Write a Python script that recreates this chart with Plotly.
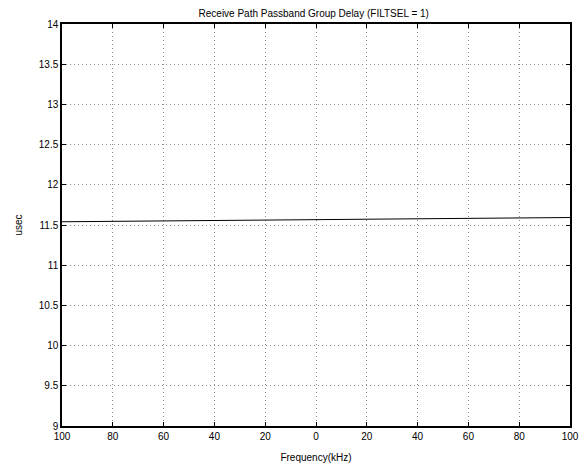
import plotly.graph_objects as go

# Frequency offsets (kHz) and measured passband group delay (usec)
freq_khz = [-100, -80, -60, -40, -20, 0, 20, 40, 60, 80, 100]
delay_usec = [11.540, 11.546, 11.551, 11.556, 11.561, 11.566, 11.571, 11.576, 11.581, 11.587, 11.593]

x_ticks = [-100, -80, -60, -40, -20, 0, 20, 40, 60, 80, 100]
x_tick_labels = ["100", "80", "60", "40", "20", "0", "20", "40", "60", "80", "100"]
y_ticks = [9, 9.5, 10, 10.5, 11, 11.5, 12, 12.5, 13, 13.5, 14]
y_tick_labels = ["9", "9.5", "10", "10.5", "11", "11.5", "12", "12.5", "13", "13.5", "14"]

font = dict(family="Liberation Sans", size=10, color="black")

fig = go.Figure(
    go.Scatter(x=freq_khz, y=delay_usec, mode="lines",
               line=dict(color="black", width=1), showlegend=False)
)

axis_common = dict(
    showline=True, linecolor="black", linewidth=1.5, mirror="allticks",
    ticks="inside", ticklen=4, tickcolor="black", tickwidth=1,
    showgrid=True, gridcolor="#8c8c8c", griddash="1px,3px", gridwidth=1,
    zeroline=False, tickfont=font, automargin=False,
)

fig.update_xaxes(range=[-100, 100], tickvals=x_ticks, ticktext=x_tick_labels,
                 title=dict(text="Frequency(kHz)", font=font, standoff=13),
                 **axis_common)
fig.update_yaxes(range=[9, 14], tickvals=y_ticks, ticktext=y_tick_labels,
                 title=dict(text="usec", font=font, standoff=14),
                 **axis_common)

fig.update_layout(
    width=581, height=464,
    margin=dict(l=62, r=11, t=24, b=38),
    paper_bgcolor="white", plot_bgcolor="white",
    font=font,
    title=dict(text="Receive Path Passband Group Delay (FILTSEL = 1)",
               x=0.54, xanchor="center", y=0.971, yanchor="middle", font=font),
)

fig.write_html("out.html")
